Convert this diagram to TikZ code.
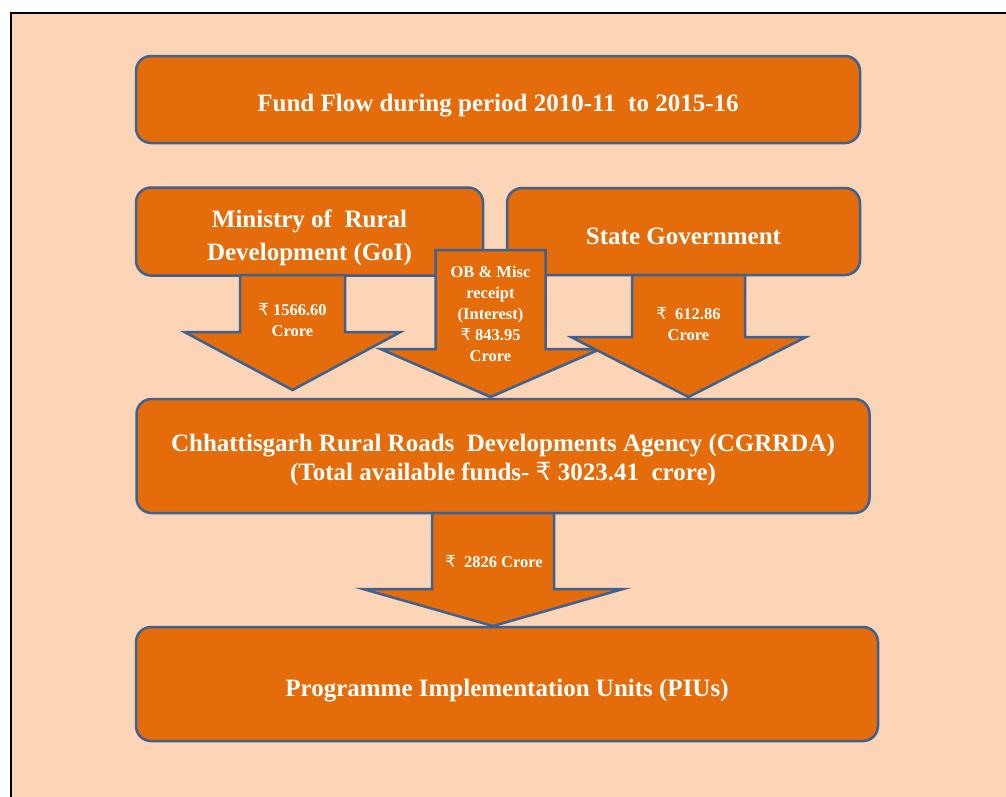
\documentclass[tikz,border=0pt]{standalone}
\usepackage{fontspec}
\setmainfont{Liberation Serif}
\newfontfamily\rsfont{DejaVu Sans}
\newcommand{\inr}{{\rsfont\mdseries ₹}}
\usetikzlibrary{positioning}
\definecolor{fundOrange}{RGB}{228,108,10}
\definecolor{edgeBlue}{RGB}{61,97,145}
\definecolor{pagePeach}{RGB}{251,213,181}

% block arrow: centre x, top y, neck y, tip y, half shaft, half head
\newcommand{\fundarrow}[6]{%
  \draw[flow arrow] ({#1-#5},#2) -- ({#1+#5},#2) -- ({#1+#5},#3) -- ({#1+#6},#3)
    -- (#1,#4) -- ({#1-#6},#3) -- ({#1-#5},#3) -- cycle;}

\begin{document}
\begin{tikzpicture}[x=1pt,y=-1pt,
  fund box/.style={draw=edgeBlue,fill=fundOrange,line width=2.5pt,rounded corners=15pt,inner sep=0pt},
  box text/.style={text=white,font=\bfseries\fontsize{25}{33}\selectfont,align=center,inner sep=0pt},
  flow arrow/.style={draw=edgeBlue,fill=fundOrange,line width=2.5pt,line join=miter},
  amount/.style={text=white,font=\bfseries\fontsize{16.5}{21}\selectfont,align=center,inner sep=0pt}]
\useasboundingbox (0,0) rectangle (1006,796);
%------------------------------------------------------------------------
% The page
%------------------------------------------------------------------------
\fill[pagePeach] (11,13) rectangle (1010,800);
\draw[line width=2pt] (11,800) -- (11,13) -- (1010,13);
%------------------------------------------------------------------------
% The sources
%------------------------------------------------------------------------
\node[fund box,minimum width=724pt,minimum height=87pt] (title) at (498,99.5) {};
\node[box text] (titleText) at ([yshift=-6pt]title.center)
  {Fund Flow during period 2010-11\ \ to 2015-16};
\node[fund box,minimum width=347pt,minimum height=88pt] (moRD) at (309.5,231.5) {};
\node[box text] (moRDText) at ([yshift=-6pt]moRD.center)
  {Ministry of\ \ Rural\\Development (GoI)};
\node[fund box,minimum width=353pt,minimum height=87pt] (state) at (683.5,231.5) {};
\node[box text] (stateText) at ([yshift=-5pt]state.center) {State Government};
%------------------------------------------------------------------------
% The flows into the agency
%------------------------------------------------------------------------
\fundarrow{490.5}{250}{349}{397}{55}{110}% OB and receipts
\fundarrow{292.5}{275}{332}{390}{52.5}{108}% from the Ministry
\fundarrow{688.5}{275}{337}{397}{56.5}{117.5}% from the State
\node[amount] (obAmt) at (490.5,314) {OB \& Misc\\receipt\\(Interest)\\\inr\ 843.95\\Crore};
\node[amount] (moRDAmt) at (292.5,320) {\inr\ 1566.60\\Crore};
\node[amount] (stateAmt) at (688.5,324) {\inr\ \ 612.86\\Crore};
%------------------------------------------------------------------------
% The agency and the units
%------------------------------------------------------------------------
\node[fund box,minimum width=733pt,minimum height=114pt] (agency) at (503,456) {};
\node[box text,font=\bfseries\fontsize{25}{29}\selectfont] (agencyText) at ([yshift=-4pt]agency.center)
  {Chhattisgarh Rural Roads\ \ Developments Agency (CGRRDA)\\(Total available funds- \inr\ 3023.41\ \ crore)};
\fundarrow{493}{513}{589}{626}{61}{130}% to the units
\node[amount] (unitAmt) at (494,562) {\inr\ \ 2826 Crore};
\node[fund box,minimum width=742pt,minimum height=114pt] (piu) at (507,684) {};
\node[box text] (piuText) at ([yshift=-7pt]piu.center) {Programme Implementation Units (PIUs)};
\end{tikzpicture}
\end{document}
